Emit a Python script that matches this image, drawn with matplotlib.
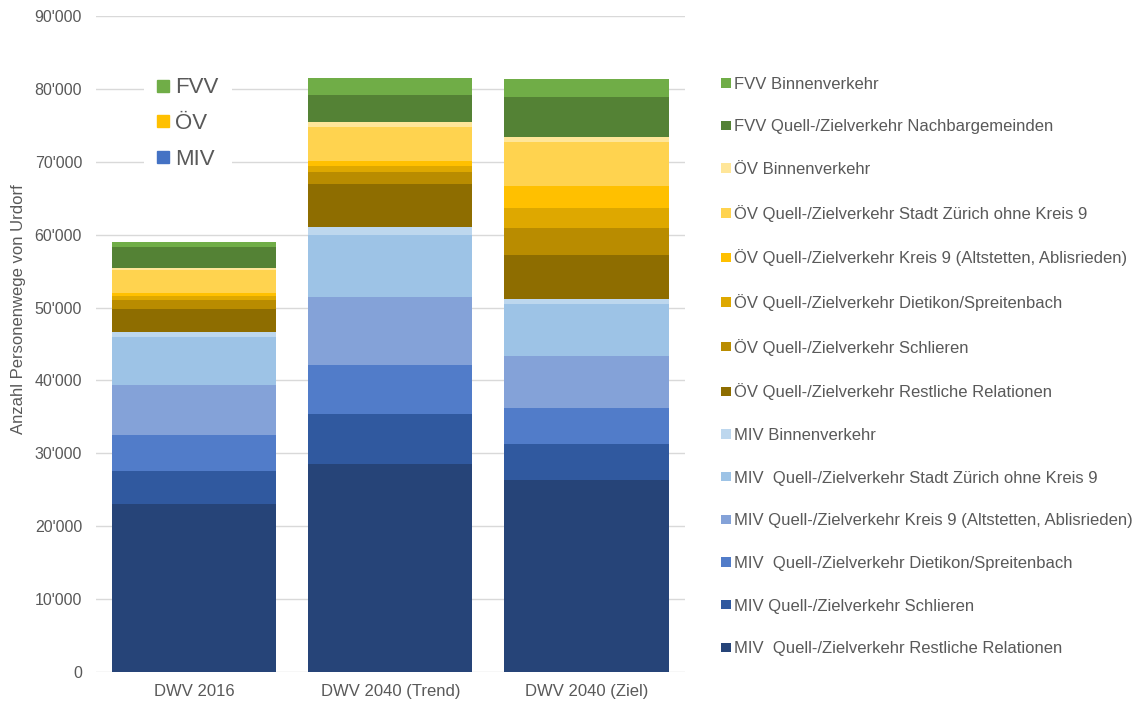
import matplotlib.pyplot as plt
from matplotlib.ticker import FuncFormatter, MultipleLocator
from matplotlib.lines import Line2D

plt.rcParams["font.family"] = ["Liberation Sans", "DejaVu Sans"]

scenarios = ["DWV 2016", "DWV 2040 (Trend)", "DWV 2040 (Ziel)"]

# stacked from bottom to top
series_names = [
    "MIV  Quell-/Zielverkehr Restliche Relationen",
    "MIV Quell-/Zielverkehr Schlieren",
    "MIV  Quell-/Zielverkehr Dietikon/Spreitenbach",
    "MIV Quell-/Zielverkehr Kreis 9 (Altstetten, Ablisrieden)",
    "MIV  Quell-/Zielverkehr Stadt Zürich ohne Kreis 9",
    "MIV Binnenverkehr",
    "ÖV Quell-/Zielverkehr Restliche Relationen",
    "ÖV Quell-/Zielverkehr Schlieren",
    "ÖV Quell-/Zielverkehr Dietikon/Spreitenbach",
    "ÖV Quell-/Zielverkehr Kreis 9 (Altstetten, Ablisrieden)",
    "ÖV Quell-/Zielverkehr Stadt Zürich ohne Kreis 9",
    "ÖV Binnenverkehr",
    "FVV Quell-/Zielverkehr Nachbargemeinden",
    "FVV Binnenverkehr",
]

miv_restliche = [23000, 28500, 26400]
miv_schlieren = [4600, 6850, 4900]
miv_dietikon = [4900, 6750, 4900]
miv_kreis9 = [6900, 9300, 7100]
miv_stadt = [6500, 8600, 7200]
miv_binnen = [700, 1100, 700]
oev_restliche = [3200, 5900, 6000]
oev_schlieren = [1200, 1550, 3700]
oev_dietikon = [550, 800, 2800]
oev_kreis9 = [450, 800, 3000]
oev_stadt = [3200, 4600, 6000]
oev_binnen = [250, 700, 700]
fvv_quell = [2800, 3700, 5500]
fvv_binnen = [700, 2300, 2500]

series_values = [
    miv_restliche, miv_schlieren, miv_dietikon, miv_kreis9, miv_stadt, miv_binnen,
    oev_restliche, oev_schlieren, oev_dietikon, oev_kreis9, oev_stadt, oev_binnen,
    fvv_quell, fvv_binnen,
]

colors = [
    "#264478", "#30599F", "#517CC9", "#84A2D8", "#9DC3E6", "#BDD7EE",
    "#8E6D00", "#B98C00", "#DEA800", "#FFC000", "#FFD34F", "#FFE699",
    "#548235", "#70AD47",
]

group_names = ["FVV", "ÖV", "MIV"]
group_colors = ["#70AD47", "#FFC000", "#4472C4"]

fig = plt.figure(figsize=(11.41, 7.04), dpi=100)
ax = fig.add_axes([0.0841, 0.0455, 0.5159, 0.9318])

x = list(range(len(scenarios)))
bottoms = [0.0] * len(scenarios)
handles = []
for name, values, color in zip(series_names, series_values, colors):
    bars = ax.bar(x, values, width=0.837, bottom=bottoms, color=color, label=name, linewidth=0)
    handles.append(bars)
    bottoms = [b + v for b, v in zip(bottoms, values)]

ax.set_xlim(-0.5, 2.5)
ax.set_ylim(0, 90000)
ax.yaxis.set_major_locator(MultipleLocator(10000))
ax.yaxis.set_major_formatter(FuncFormatter(lambda v, pos: f"{int(v):,}".replace(",", "'")))
ax.set_xticks(x)
ax.set_xticklabels(scenarios)
ax.tick_params(axis="x", length=0, labelsize=12, colors="#595959", pad=9)
ax.tick_params(axis="y", length=0, labelsize=11.5, colors="#595959", pad=10)
ax.grid(True, axis="y", color="#D9D9D9", linewidth=1)
ax.set_axisbelow(True)
for spine in ax.spines.values():
    spine.set_visible(False)
ax.set_ylabel("Anzahl Personenwege von Urdorf", fontsize=12, color="#595959")
ax.yaxis.set_label_coords(-0.118, 0.553)

# right legend, top entry = last series
fig.legend(
    handles[::-1],
    series_names[::-1],
    loc="upper left",
    bbox_to_anchor=(0.632, 0.891),
    frameon=False,
    fontsize=12,
    labelcolor="#595959",
    handlelength=0.6,
    handleheight=0.5,
    handletextpad=0.15,
    labelspacing=1.66,
    borderaxespad=0,
    borderpad=0,
)

# group legend inside the plot
group_handles = [
    Line2D([], [], marker="s", linestyle="none", markersize=8, color=c) for c in group_colors
]
ax.legend(
    group_handles,
    group_names,
    loc="upper left",
    bbox_to_anchor=(0.1262, 0.909),
    bbox_transform=fig.transFigure,
    frameon=True,
    facecolor="white",
    edgecolor="none",
    framealpha=1,
    fontsize=16,
    labelcolor="#595959",
    handlelength=0.55,
    handletextpad=0.25,
    labelspacing=0.66,
    borderpad=0.6,
    borderaxespad=0,
)

fig.savefig("out.png", dpi=100)
